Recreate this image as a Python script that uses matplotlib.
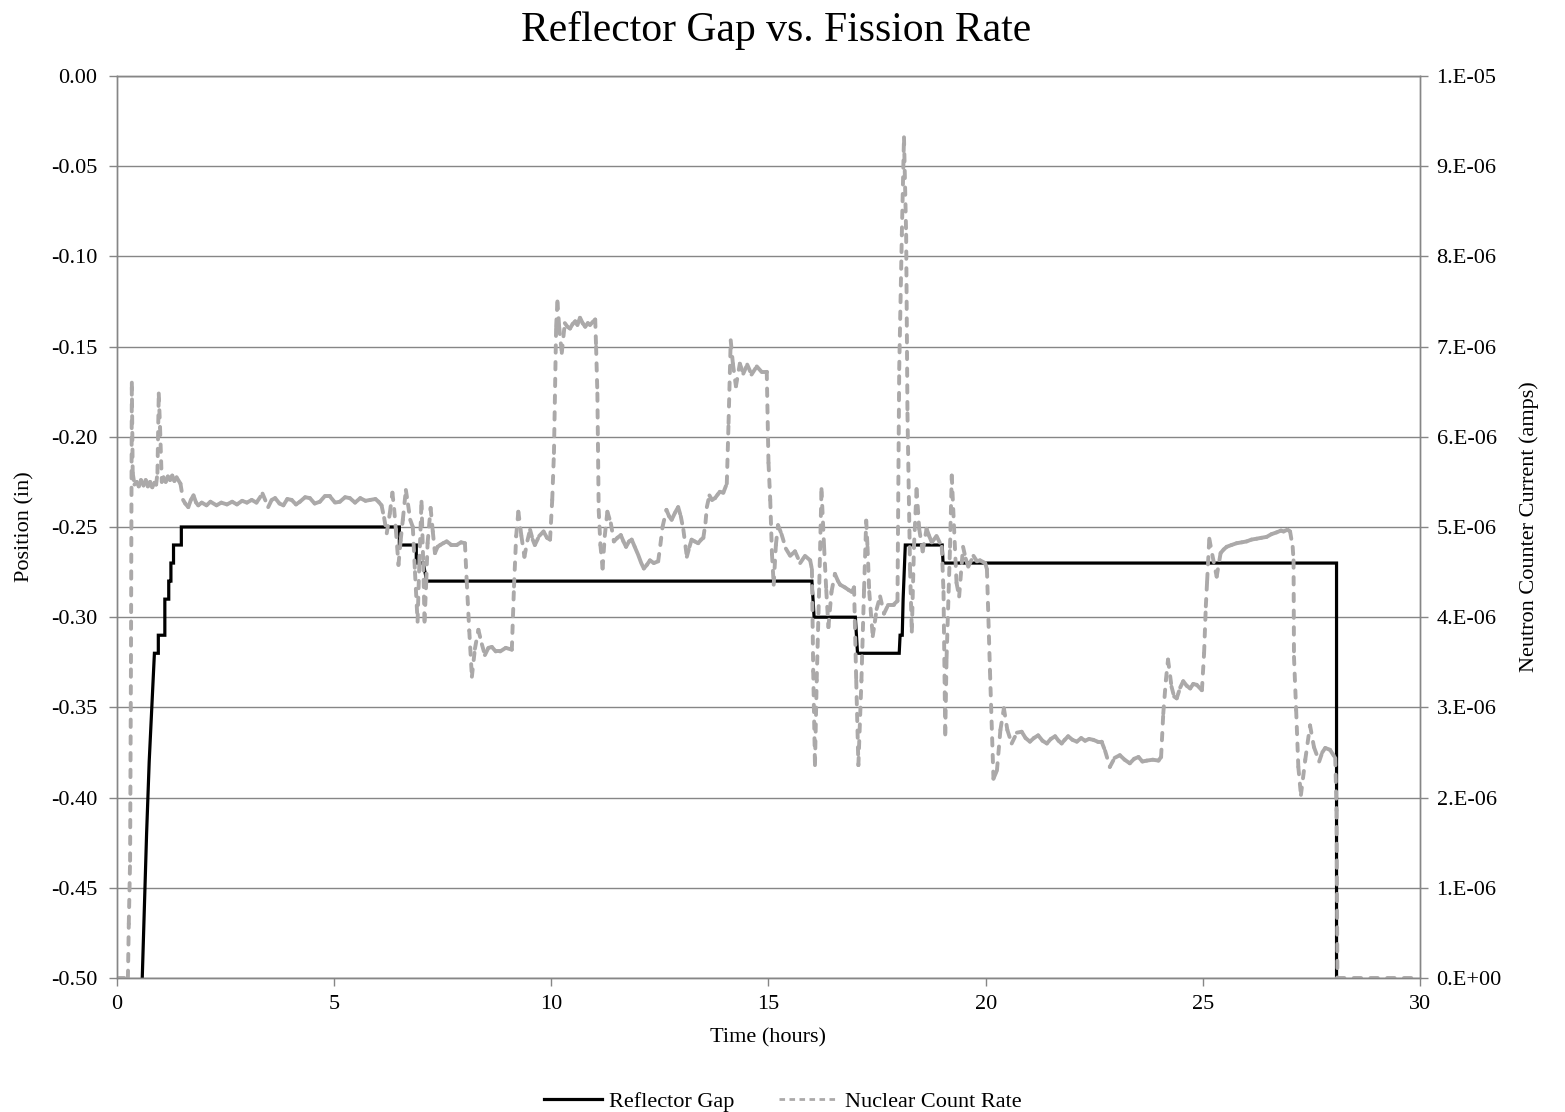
## Reflector gap position and neutron counter current versus time
import numpy as np
import matplotlib
matplotlib.use('Agg')
import matplotlib.pyplot as plt
from matplotlib.collections import LineCollection
from matplotlib.lines import Line2D
from matplotlib.ticker import FuncFormatter

plt.rcParams['font.family'] = ['Liberation Serif', 'DejaVu Serif']

# Reflector gap (in) - step trace
gap_time = [0.58, 0.63, 0.68, 0.74, 0.80, 0.86, 0.95, 0.95, 1.10, 1.10, 1.19, 1.19,
            1.24, 1.24, 1.30, 1.30, 1.48, 1.48, 6.50, 6.50, 6.89, 6.89, 7.05, 7.13,
            16.00, 16.05, 17.00, 17.05, 18.01, 18.03, 18.08, 18.10, 18.15, 19.00,
            19.02, 28.08, 28.08]
gap_pos = [-0.50, -0.46, -0.42, -0.38, -0.35, -0.32, -0.32, -0.31, -0.31, -0.29, -0.29, -0.28,
           -0.28, -0.27, -0.27, -0.26, -0.26, -0.25, -0.25, -0.26, -0.26, -0.27, -0.27, -0.28,
           -0.28, -0.30, -0.30, -0.32, -0.32, -0.31, -0.31, -0.29, -0.26, -0.26,
           -0.27, -0.27, -0.50]

# Nuclear count rate (neutron counter current, x1e-6 amps)
rate_time = [0.00, 0.25, 0.27, 0.30, 0.32, 0.34, 0.36, 0.40, 0.45, 0.50, 0.55, 0.61, 0.66, 0.71,
             0.76, 0.81, 0.86, 0.90, 0.93, 0.96, 0.99, 1.03, 1.07, 1.12, 1.17, 1.22, 1.27, 1.32,
             1.37, 1.46, 1.52, 1.57, 1.64, 1.70, 1.76, 1.82, 1.87, 1.95, 2.06, 2.15, 2.29, 2.40,
             2.53, 2.65, 2.76, 2.88, 2.99, 3.10, 3.21, 3.35, 3.48, 3.56, 3.64, 3.74, 3.83, 3.92,
             4.02, 4.12, 4.21, 4.33, 4.44, 4.55, 4.67, 4.78, 4.90, 5.02, 5.13, 5.25, 5.36, 5.48,
             5.60, 5.72, 5.83, 5.95, 6.02, 6.09, 6.15, 6.21, 6.28, 6.34, 6.38, 6.42, 6.48, 6.53,
             6.58, 6.65, 6.70, 6.75, 6.81, 6.86, 6.92, 6.96, 7.01, 7.05, 7.08, 7.12, 7.15, 7.22,
             7.27, 7.32, 7.38, 7.44, 7.51, 7.59, 7.70, 7.82, 7.92, 8.01, 8.05, 8.11, 8.17, 8.24,
             8.32, 8.40, 8.47, 8.55, 8.63, 8.72, 8.82, 8.95, 9.09, 9.14, 9.19, 9.24, 9.31, 9.38,
             9.45, 9.51, 9.57, 9.62, 9.72, 9.82, 9.90, 9.97, 10.02, 10.06, 10.11, 10.14, 10.18,
             10.24, 10.31, 10.37, 10.43, 10.49, 10.55, 10.60, 10.66, 10.72, 10.78, 10.84, 10.89,
             10.95, 11.01, 11.03, 11.06, 11.09, 11.13, 11.18, 11.23, 11.29, 11.37, 11.44, 11.52,
             11.60, 11.66, 11.72, 11.79, 11.85, 11.92, 12.00, 12.07, 12.13, 12.20, 12.27, 12.36,
             12.46, 12.51, 12.56, 12.65, 12.71, 12.77, 12.85, 12.92, 12.98, 13.04, 13.12, 13.18,
             13.23, 13.30, 13.38, 13.45, 13.50, 13.55, 13.58, 13.64, 13.70, 13.77, 13.83, 13.88,
             13.96, 14.04, 14.08, 14.13, 14.18, 14.25, 14.34, 14.42, 14.51, 14.61, 14.73, 14.84,
             14.96, 15.00, 15.04, 15.08, 15.12, 15.17, 15.22, 15.30, 15.40, 15.50, 15.61, 15.73,
             15.84, 15.96, 16.00, 16.03, 16.07, 16.11, 16.17, 16.22, 16.28, 16.33, 16.38, 16.45,
             16.53, 16.60, 16.65, 16.76, 16.85, 16.92, 16.97, 17.02, 17.07, 17.14, 17.20, 17.25,
             17.28, 17.32, 17.40, 17.45, 17.49, 17.57, 17.66, 17.76, 17.88, 17.97, 18.01, 18.07,
             18.12, 18.17, 18.20, 18.26, 18.30, 18.35, 18.41, 18.47, 18.55, 18.64, 18.70, 18.76,
             18.87, 18.99, 19.03, 19.07, 19.10, 19.18, 19.22, 19.27, 19.33, 19.39, 19.48, 19.54,
             19.60, 19.72, 19.80, 19.87, 19.99, 20.03, 20.10, 20.18, 20.26, 20.34, 20.42, 20.50,
             20.60, 20.72, 20.83, 20.92, 21.02, 21.11, 21.21, 21.31, 21.41, 21.50, 21.60, 21.68,
             21.75, 21.82, 21.90, 22.00, 22.10, 22.20, 22.29, 22.38, 22.48, 22.58, 22.67, 22.75,
             22.86, 22.97, 23.09, 23.20, 23.32, 23.42, 23.52, 23.61, 23.71, 23.85, 23.98, 24.04,
             24.09, 24.15, 24.20, 24.28, 24.34, 24.40, 24.48, 24.55, 24.63, 24.71, 24.78, 24.86,
             24.98, 25.03, 25.07, 25.10, 25.15, 25.22, 25.32, 25.41, 25.48, 25.55, 25.66, 25.78,
             25.90, 26.01, 26.12, 26.24, 26.35, 26.47, 26.58, 26.70, 26.80, 26.86, 26.95, 27.01,
             27.07, 27.09, 27.10, 27.15, 27.20, 27.26, 27.36, 27.47, 27.56, 27.68, 27.75, 27.82,
             27.93, 28.05, 28.08, 28.10, 30.00]
rate_amps_e6 = [0.0, 0.0, 0.6, 1.3, 3.5, 6.6, 5.6, 5.47, 5.50, 5.45, 5.52, 5.46, 5.52, 5.45,
                5.50, 5.44, 5.49, 5.47, 5.6, 6.48, 6.1, 5.5, 5.55, 5.50, 5.56, 5.52, 5.57, 5.51,
                5.55, 5.48, 5.30, 5.26, 5.22, 5.30, 5.35, 5.27, 5.24, 5.27, 5.24, 5.28, 5.24, 5.27,
                5.25, 5.28, 5.25, 5.29, 5.27, 5.30, 5.27, 5.37, 5.22, 5.30, 5.32, 5.26, 5.24, 5.31,
                5.30, 5.25, 5.28, 5.33, 5.32, 5.26, 5.28, 5.34, 5.34, 5.27, 5.28, 5.33, 5.32, 5.27,
                5.32, 5.29, 5.30, 5.31, 5.28, 5.24, 5.10, 4.93, 5.15, 5.38, 5.20, 4.97, 4.58, 4.85,
                5.08, 5.41, 5.25, 5.08, 5.00, 4.50, 3.95, 4.60, 5.28, 4.60, 3.95, 4.40, 4.82, 5.21,
                4.95, 4.71, 4.78, 4.80, 4.82, 4.84, 4.80, 4.80, 4.83, 4.82, 4.41, 3.85, 3.34, 3.65,
                3.86, 3.70, 3.58, 3.66, 3.67, 3.62, 3.62, 3.66, 3.64, 4.34, 4.90, 5.17, 4.90, 4.67,
                4.85, 4.97, 4.86, 4.80, 4.90, 4.95, 4.88, 4.86, 5.30, 5.82, 7.22, 7.50, 7.22,
                6.93, 7.26, 7.22, 7.20, 7.25, 7.28, 7.24, 7.32, 7.26, 7.22, 7.26, 7.24,
                7.27, 7.30, 7.00, 6.48, 5.19, 4.80, 4.54, 4.90, 5.17, 5.04, 4.84, 4.88,
                4.91, 4.84, 4.78, 4.84, 4.86, 4.78, 4.69, 4.60, 4.54, 4.58, 4.63, 4.60,
                4.62, 4.80, 5.00, 5.19, 5.12, 5.08, 5.16, 5.22, 5.12, 4.97, 4.67, 4.78,
                4.86, 4.84, 4.82, 4.86, 4.88, 5.05, 5.22, 5.35, 5.30, 5.32, 5.36, 5.39,
                5.38, 5.48, 6.15, 7.07, 6.81, 6.56, 6.81, 6.70, 6.80, 6.69, 6.78, 6.72,
                6.72, 5.71, 5.30, 4.70, 4.36, 4.80, 5.02, 4.92, 4.76, 4.68, 4.73, 4.60,
                4.68, 4.63, 4.53, 3.40, 2.36, 3.30, 4.38, 5.42, 4.78, 4.30, 3.89, 4.28,
                4.48, 4.40, 4.36, 4.33, 4.30, 4.28, 4.33, 3.30, 2.36, 3.30, 4.30, 5.07,
                4.78, 4.28, 3.79, 3.95, 4.09, 4.23, 4.04, 4.14, 4.14, 4.18, 6.75, 8.24,
                9.32, 8.24, 6.26, 4.53, 3.84, 4.78, 5.42, 4.98, 4.73, 4.98, 4.90, 4.83,
                4.90, 4.78, 4.28, 2.70, 3.54, 4.78, 5.57, 5.02, 4.38, 4.23, 4.78, 4.65,
                4.56, 4.68, 4.62, 4.63, 4.60, 4.53, 3.40, 2.21, 2.30, 2.75, 2.99, 2.75,
                2.60, 2.72, 2.73, 2.66, 2.62, 2.66, 2.69, 2.63, 2.60, 2.65, 2.68, 2.63,
                2.60, 2.64, 2.68, 2.64, 2.62, 2.66, 2.63, 2.65, 2.64, 2.62, 2.62, 2.52,
                2.34, 2.44, 2.47, 2.42, 2.38, 2.43, 2.45, 2.40, 2.41, 2.42, 2.41, 2.45,
                2.93, 3.30, 3.53, 3.23, 3.12, 3.10, 3.22, 3.29, 3.24, 3.21, 3.26, 3.25,
                3.19, 3.60, 4.12, 4.40, 4.87, 4.69, 4.45, 4.71, 4.75, 4.78, 4.80, 4.82,
                4.83, 4.84, 4.86, 4.87, 4.88, 4.89, 4.92, 4.94, 4.96, 4.95, 4.97, 4.95,
                4.78, 4.63, 3.56, 2.97, 2.34, 2.03, 2.42, 2.80, 2.56, 2.40, 2.50, 2.55,
                2.53, 2.44, 1.86, 0.0, 0.0]

axis_grey = '#868686'
rate_grey = '#aba9a9'

fig = plt.figure(figsize=(15.65, 11.12), dpi=100, facecolor='white')
ax = fig.add_axes([0.0748, 0.1205, 0.8325, 0.8112])

# Reflector gap on primary axis
ax.plot(gap_time, gap_pos, color='black', linewidth=2.3, solid_joinstyle='miter')
ax.set_xlim(0, 30)
ax.set_ylim(-0.50, 0.00)
ax.set_xticks(np.arange(0, 31, 5))
ax.set_yticks(np.linspace(-0.50, 0.00, 11))
ax.yaxis.set_major_formatter(FuncFormatter(lambda v, p: '%.2f' % v))
ax.grid(axis='y', color=axis_grey, linewidth=1)
ax.set_axisbelow(True)

# Nuclear count rate on secondary axis (dash pattern restarts per segment, like Excel)
ax2 = ax.twinx()
rate = np.array(rate_amps_e6) * 1e-6
pts = np.column_stack([rate_time, rate])
segs = np.stack([pts[:-1], pts[1:]], axis=1)
lc = LineCollection(segs, colors=rate_grey, linewidths=2.8,
                    linestyles=[(0, (1.9, 2.4))], capstyle='round')
ax2.add_collection(lc)
ax2.set_ylim(0, 1e-5)
ax2.set_yticks(np.linspace(0, 1e-5, 11))


def sci_fmt(v, pos):
    if abs(v) < 1e-12:
        return '0.E+00'
    e = int(np.floor(np.log10(abs(v)) + 1e-6))
    m = int(round(v / 10.0 ** e))
    return '%d.E%+03d' % (m, e)


ax2.yaxis.set_major_formatter(FuncFormatter(sci_fmt))

for a in (ax, ax2):
    for s in a.spines.values():
        s.set_color(axis_grey)
        s.set_linewidth(1)
    a.tick_params(direction='out', length=6, width=1, color=axis_grey,
                  labelsize=16, pad=6)
ax.tick_params(axis='y', pad=8)
ax2.tick_params(axis='y', pad=6)

ax.set_xlabel('Time (hours)', fontsize=16)
ax.set_ylabel('Position (in)', fontsize=16)
ax2.set_ylabel('Neutron Counter Current (amps)', fontsize=16)
ax.xaxis.set_label_coords(0.5, -0.056)
ax.yaxis.set_label_coords(-0.063, 0.5)
ax2.yaxis.set_label_coords(1.076, 0.5)

fig.text(0.496, 0.973, 'Reflector Gap vs. Fission Rate', ha='center', va='center', fontsize=30)

handles = [Line2D([], [], color='black', linewidth=2.3),
           Line2D([], [], color=rate_grey, linewidth=2.0, linestyle=(0, (2.0, 1.6)))]
fig.legend(handles, ['Reflector Gap', 'Nuclear Count Rate'], loc='center',
           bbox_to_anchor=(0.500, 0.009), ncol=2, frameon=False, fontsize=16,
           handlelength=2.6, handletextpad=0.35, columnspacing=2.0)

fig.savefig('out.png', dpi=100, facecolor='white')
